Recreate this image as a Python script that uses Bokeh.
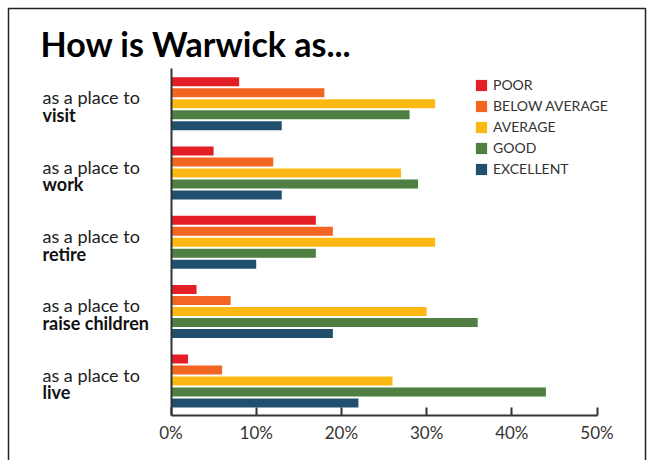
from bokeh.plotting import figure
from bokeh.models import (Range1d, FixedTicker, PrintfTickFormatter, Label,
                          BoxAnnotation, ColumnDataSource, Legend, LegendItem)
from bokeh.embed import file_html
from bokeh.resources import INLINE

# ---- data ----
categories = ["visit", "work", "retire", "raise children", "live"]
ratings = ["POOR", "BELOW AVERAGE", "AVERAGE", "GOOD", "EXCELLENT"]
poor = [8, 5, 17, 3, 2]
below_average = [18, 12, 19, 7, 6]
average = [31, 27, 31, 30, 26]
good = [28, 29, 17, 36, 44]
excellent = [13, 13, 10, 19, 22]
x_ticks = [0, 10, 20, 30, 40, 50]
title_text = "How is Warwick as..."
prefix_text = "as a place to"

series = [poor, below_average, average, good, excellent]
colors = ["#E31E26", "#F26522", "#FDB913", "#4F7F42", "#21506F"]

# ---- layout constants (pixels -> data units) ----
W, H = 649, 460
X0_PX, SX = 170.5, 8.52       # pixel of 0 %, pixels per 1 %
Y0_PX, SY = 68.0, 11.0        # pixel of top of bar area, pixels per bar slot
TOP_PAD = 0.7
GROUP = 6.3
BAR_H = 0.82
Y_END = 31.54                 # bottom of bar area (x axis position)
FONT = "Lato"


def dx(px):
    return (px - X0_PX) / SX


def dy(px):
    return (px - Y0_PX) / SY


p = figure(width=W, height=H,
           x_range=Range1d(dx(0), dx(W)), y_range=Range1d(dy(H), dy(0)),
           output_backend="svg", toolbar_location=None,
           min_border_left=0, min_border_right=0, min_border_top=0, min_border_bottom=0,
           outline_line_color=None, background_fill_color="white", border_fill_color="white")
p.grid.visible = False

items = []
for k, (vals, col, name) in enumerate(zip(series, colors, ratings)):
    ys = [TOP_PAD + g * GROUP + k + 0.5 for g in range(len(categories))]
    src = ColumnDataSource(dict(y=ys, right=vals, cat=categories))
    r = p.hbar(y="y", left=0, right="right", height=BAR_H, source=src,
               fill_color=col, line_color=None)
    items.append(LegendItem(label=name, renderers=[r]))

legend = Legend(items=items, location=(474, 283), glyph_width=14, glyph_height=14,
                label_height=14, spacing=4, padding=0, margin=0, label_standoff=5,
                label_text_font=FONT, label_text_font_size="14px", label_text_color="#333333",
                border_line_alpha=0, background_fill_alpha=0)
p.add_layout(legend)

# x axis, fixed at the bottom of the bar area
xa = p.xaxis[0]
xa.fixed_location = Y_END
xa.bounds = (0, 50)
xa.ticker = FixedTicker(ticks=x_ticks)
xa.formatter = PrintfTickFormatter(format="%d%%")
xa.major_tick_in = 8
xa.major_tick_out = 0
xa.minor_tick_line_color = None
xa.axis_line_width = 2
xa.axis_line_color = "#333333"
xa.major_tick_line_width = 2
xa.major_tick_line_color = "#333333"
xa.major_label_text_font = FONT
xa.major_label_text_font_size = "17px"
xa.major_label_text_color = "#333333"
xa.major_label_standoff = 7

# y axis: line only, fixed at 0 %
ya = p.yaxis[0]
ya.fixed_location = 0
ya.bounds = (0, Y_END)
ya.ticker = FixedTicker(ticks=[])
ya.major_tick_line_color = None
ya.minor_tick_line_color = None
ya.major_label_text_font_size = "0px"
ya.axis_line_width = 2
ya.axis_line_color = "#333333"

# category labels
for g, cat in enumerate(categories):
    center = TOP_PAD + g * GROUP + 2.5
    p.add_layout(Label(x=dx(42), y=center - 0.58, text=prefix_text, text_font=FONT,
                       text_font_size="18px", text_color="#222222",
                       text_baseline="alphabetic", text_align="left"))
    p.add_layout(Label(x=dx(42), y=center + 1.03, text=cat, text_font=FONT,
                       text_font_size="18px", text_font_style="bold", text_color="#111111",
                       text_baseline="alphabetic", text_align="left"))

# title
p.add_layout(Label(x=dx(40), y=dy(43), text=title_text, text_font=FONT,
                   text_font_size="34px", text_font_style="bold", text_color="#000000",
                   text_baseline="alphabetic", text_align="left"))

# border box
p.add_layout(BoxAnnotation(left=dx(8), right=dx(645), top=dy(8), bottom=dy(H + 20),
                           fill_alpha=0, line_color="#222222", line_alpha=1.0,
                           line_width=1.5))

open("out.html", "w").write(file_html(p, INLINE))
